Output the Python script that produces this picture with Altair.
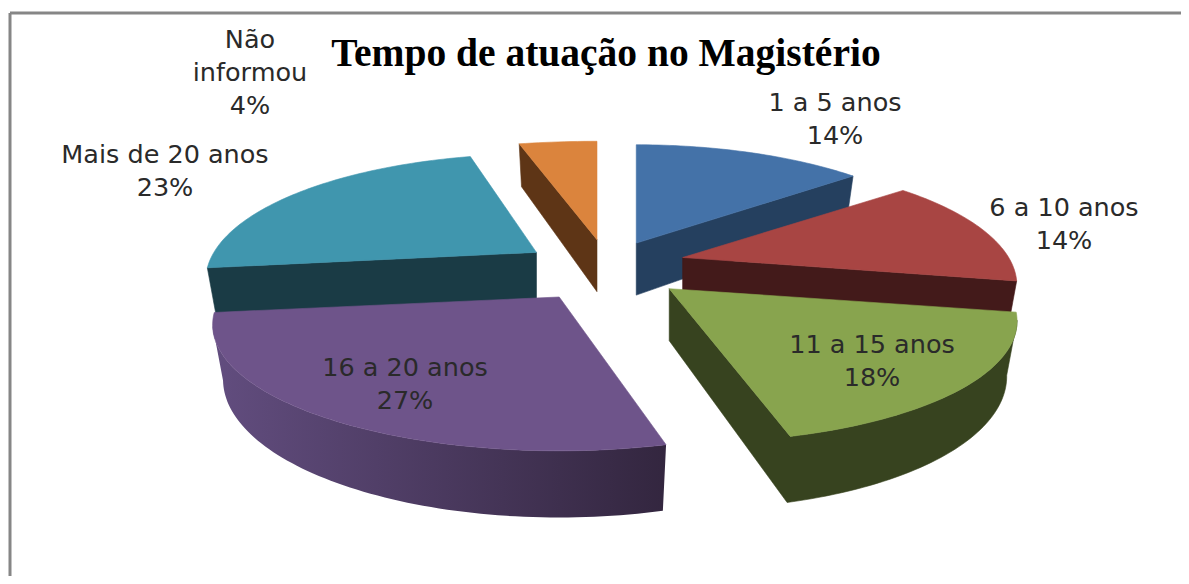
import math
import altair as alt
import pandas as pd

# Chart values
categories = ["1 a 5 anos", "6 a 10 anos", "11 a 15 anos", "16 a 20 anos", "Mais de 20 anos", "Não\ninformou"]
values = [14, 14, 18, 27, 23, 4]
title_text = "Tempo de atuação no Magistério"

# Styling
top_colors = ["#4472A8", "#A84543", "#88A44E", "#6E548A", "#4096AE", "#DB843D"]
side_colors = ["#25405F", "#431A1A", "#37431F", None, "#1A3B45", "#5E3516"]
explode = [0.20, 0.22, 0.22, 0.25, 0.27, 0.27]
width_scale = [0.93, 0.945, 0.975, 0.98, 0.935, 1.1]
shear = [0, 0, 0.1, 0, 0, 0]
lift = [-5, -5, 1, 2, 1, 1]
nudge = [-2, 0, 2, 0, 1, -2]
order_before = [5, 0, 4, 1]
label_x = [835, 1064, 872, 405, 165, 250]
label_y = [103, 208, 345, 368, 155, 40]

# View geometry of the tilted pie (pixels in the page minus the 8px margin)
OX, OY = 8, 8
CX, CY, RX, RY, P, DEPTH, SHRINK = 610, 269, 345, 120, 0.22, 52, 0.03


def project(X, Y, z=0.0):
    k = 1 / (1 - P * Y)
    return [CX + RX * X * k * (1 - SHRINK * z) - OX, CY + RY * Y * k + DEPTH * k * z - OY]


def feature(ring, color):
    ring = ring + [ring[0]]
    return {"type": "Feature", "properties": {"fill": color}, "geometry": {"type": "Polygon", "coordinates": [ring]}}


total = sum(values)
starts = [sum(values[:i]) / total * 2 * math.pi for i in range(len(values))]


def slice_faces(i):
    """Wall polygons (visible side faces) and the top polygon of slice i."""
    a0 = starts[i]
    a1 = a0 + values[i] / total * 2 * math.pi
    mid = (a0 + a1) / 2
    ox, oy = explode[i] * math.sin(mid), -explode[i] * math.cos(mid)
    base = project(0, 0)
    shift = project(ox, oy)
    dx, dy = shift[0] - base[0] + nudge[i], shift[1] - base[1] + lift[i]

    def pt(X, Y, z=0.0):
        p = project(X, Y, z)
        flat = project(X, Y)
        return [
            base[0] + (p[0] - base[0]) * width_scale[i] + shear[i] * (flat[1] - base[1]) + dx,
            p[1] + dy,
        ]

    n = max(12, values[i] * 3)
    pts = [(0.0, 0.0)] + [
        (math.sin(a0 + (a1 - a0) * j / n), -math.cos(a0 + (a1 - a0) * j / n)) for j in range(n + 1)
    ]
    m = len(pts)
    visible = [pt(*pts[(j + 1) % m])[0] - pt(*pts[j])[0] < -0.01 for j in range(m)]
    first = next(j for j in range(m) if not visible[j]) + 1
    walls, run = [], []
    for s in range(m):
        j = (first + s) % m
        if visible[j]:
            if not run:
                run = [pts[j]]
            run.append(pts[(j + 1) % m])
        elif run:
            walls.append(run)
            run = []
    if run:
        walls.append(run)
    wall_rings = [[pt(*q) for q in r] + [pt(*q, 1) for q in reversed(r)] for r in walls]
    return wall_rings, [pt(*q) for q in pts]


before = []
for i in order_before:
    w, t = slice_faces(i)
    before += [feature(r, side_colors[i]) for r in w] + [feature(t, top_colors[i])]
purple_wall, purple_top = slice_faces(3)
green_wall, green_top = slice_faces(2)
after = [feature(purple_top, top_colors[3])]
after += [feature(r, side_colors[2]) for r in green_wall] + [feature(green_top, top_colors[2])]


def poly_layer(feats):
    return (
        alt.Chart(alt.Data(values=feats))
        .mark_geoshape(strokeWidth=0.6)
        .encode(color=alt.Color("properties.fill:N", scale=None), stroke=alt.Stroke("properties.fill:N", scale=None))
        .project(type="identity", scale=1, translate=[0, 0])
    )


wall_gradient = alt.Gradient(
    gradient="linear",
    x1=0,
    x2=1,
    y1=0,
    y2=0,
    stops=[alt.GradientStop(color="#624D7F", offset=0), alt.GradientStop(color="#33263F", offset=1)],
)
purple_wall_layer = (
    alt.Chart(alt.Data(values=[feature(r, "#000000") for r in purple_wall]))
    .mark_geoshape(fill=wall_gradient, strokeWidth=0)
    .project(type="identity", scale=1, translate=[0, 0])
)

labels_df = pd.DataFrame(
    {
        "text": [f"{c}\n{v}%" for c, v in zip(categories, values)],
        "x": [x - OX for x in label_x],
        "y": [y - OY for y in label_y],
    }
)
labels = (
    alt.Chart(labels_df)
    .mark_text(font="DejaVu Sans", fontSize=25.5, color="#2a2a2a", lineBreak="\n", lineHeight=33, baseline="middle")
    .encode(x=alt.X("x:Q", scale=None), y=alt.Y("y:Q", scale=None), text="text:N")
)
title = (
    alt.Chart(pd.DataFrame({"text": [title_text], "x": [606 - OX], "y": [54 - OY]}))
    .mark_text(font="Liberation Serif", fontSize=39.5, fontWeight="bold", color="#000000", baseline="middle")
    .encode(x=alt.X("x:Q", scale=None), y=alt.Y("y:Q", scale=None), text="text:N")
)
frame = pd.DataFrame({"x": [2, 2], "x2": [1181, 2], "y": [5, 5], "y2": [5, 576]})
border = (
    alt.Chart(frame)
    .mark_rule(color="#868686", strokeWidth=3)
    .encode(x=alt.X("x:Q", scale=None), x2="x2:Q", y=alt.Y("y:Q", scale=None), y2="y2:Q")
)

chart = (
    alt.layer(border, poly_layer(before), purple_wall_layer, poly_layer(after), labels, title)
    .properties(width=1173, height=568, padding=0, background="#ffffff", autosize=alt.AutoSizeParams(type="none"))
    .configure_view(stroke=None)
)
chart.save("out.html", embed_options={"renderer": "svg", "actions": False})
